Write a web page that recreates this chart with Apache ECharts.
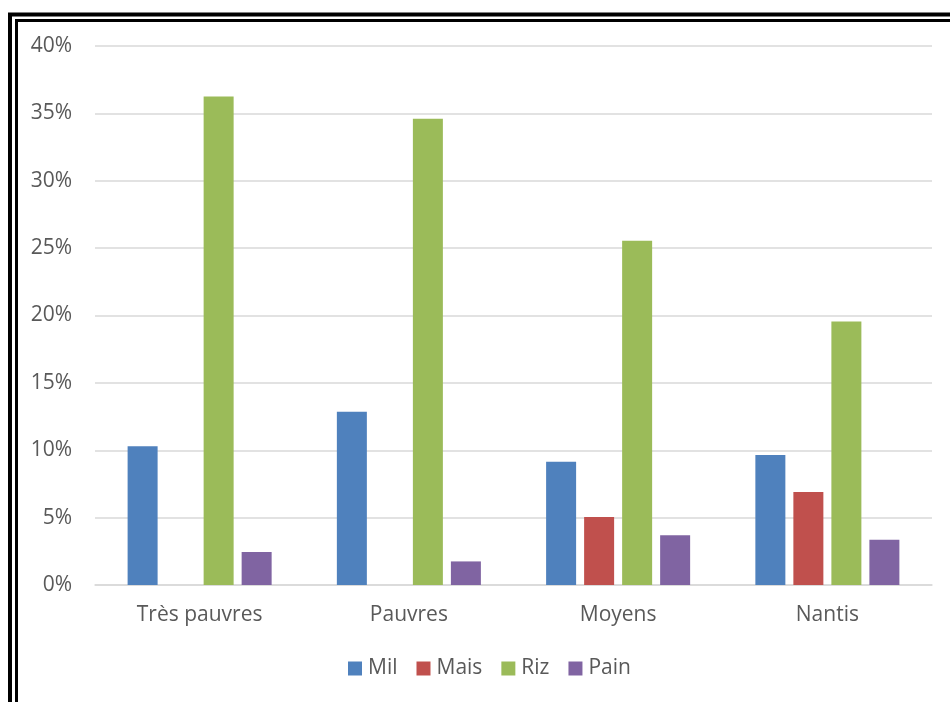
<!DOCTYPE html>
<html>
<head>
<meta charset="utf-8">
<script src="https://cdn.jsdelivr.net/npm/echarts@6/dist/echarts.min.js"></script>
<style>
  html, body { margin: 0; padding: 0; background: #ffffff; }
  #chart { width: 950px; height: 702px; }
</style>
</head>
<body>
<div id="chart"></div>
<script>
// Part of consumption by staple, per wealth group
const categories = ['Très pauvres', 'Pauvres', 'Moyens', 'Nantis'];
const seriesNames = ['Mil', 'Mais', 'Riz', 'Pain'];
const mil  = [10.3, 12.85, 9.15, 9.65];
const mais = [null, null, 5.05, 6.9];
const riz  = [36.25, 34.6, 25.55, 19.55];
const pain = [2.45, 1.75, 3.7, 3.35];
const colors = ['#4f81bd', '#c0504d', '#9bbb59', '#8064a2'];
const yTicks = [0, 5, 10, 15, 20, 25, 30, 35, 40];

const FONT = '"Open Sans", "Liberation Sans", sans-serif';
const values = [mil, mais, riz, pain];

const chart = echarts.init(document.getElementById('chart'), null, { renderer: 'canvas' });

chart.setOption({
  animation: false,
  backgroundColor: '#ffffff',
  textStyle: { fontFamily: FONT },
  grid: { left: 95, right: 18, top: 46, bottom: 117, containLabel: false },
  legend: {
    data: seriesNames,
    bottom: 18,
    left: 343,
    padding: [5, 5],
    itemWidth: 14,
    itemHeight: 14,
    itemGap: 19,
    icon: 'rect',
    textStyle: { fontSize: 21, color: '#595959', fontFamily: FONT, padding: [0, 0, 0, 1] }
  },
  xAxis: {
    type: 'category',
    data: categories,
    axisLine: { show: true, lineStyle: { color: '#d9d9d9', width: 1.5 } },
    axisTick: { show: false },
    axisLabel: { fontSize: 21, color: '#595959', margin: 20, fontFamily: FONT }
  },
  yAxis: {
    type: 'value',
    min: yTicks[0],
    max: yTicks[yTicks.length - 1],
    interval: 5,
    axisLine: { show: false },
    axisTick: { show: false },
    splitLine: { lineStyle: { color: '#d9d9d9', width: 1.5 } },
    axisLabel: { fontSize: 21, color: '#595959', margin: 23, formatter: '{value}%', fontFamily: FONT }
  },
  series: seriesNames.map((name, i) => ({
    name: name,
    type: 'bar',
    data: values[i],
    barWidth: 30,
    barGap: '26.7%',
    itemStyle: { color: colors[i] }
  })),
  graphic: [
    // double frame around the chart
    {
      type: 'rect',
      shape: { x: 10, y: 14.5, width: 1000, height: 800 },
      style: { fill: 'none', stroke: '#000000', lineWidth: 4 },
      silent: true
    },
    {
      type: 'rect',
      shape: { x: 16.5, y: 20.5, width: 1000, height: 800 },
      style: { fill: 'none', stroke: '#000000', lineWidth: 3 },
      silent: true
    }
  ]
});
</script>
</body>
</html>
